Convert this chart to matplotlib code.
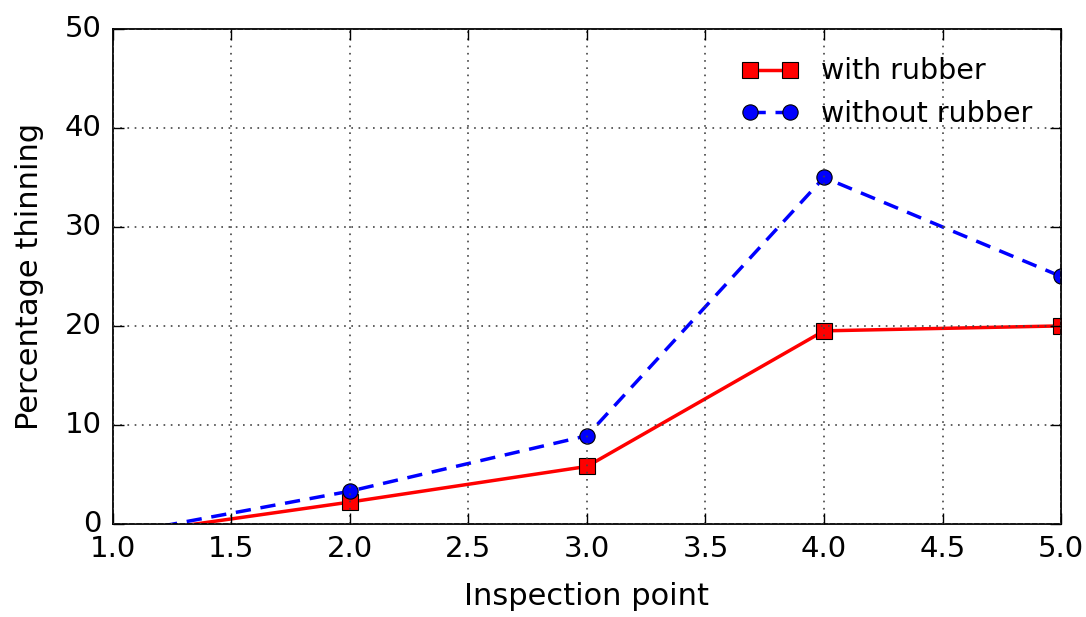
import matplotlib
matplotlib.use("Agg")
import matplotlib.pyplot as plt

plt.style.use("classic")

x = [1.0, 2.0, 3.0, 4.0, 5.0]
with_rubber = [-1.2, 2.2, 5.8, 19.5, 20.0]
without_rubber = [-1.15, 3.3, 8.9, 35.0, 25.0]

fig = plt.figure(figsize=(10.86, 6.17), dpi=100, facecolor="white")
ax = fig.add_axes([0.104, 0.151, 0.873, 0.802])

ax.plot(x, with_rubber, color="red", linestyle="-", marker="s", linewidth=2.5,
        markersize=11, markeredgecolor="black", markeredgewidth=0.8, label="with rubber")
ax.plot(x, without_rubber, color="blue", linestyle="--", marker="o", linewidth=2.5,
        markersize=11, markeredgecolor="black", markeredgewidth=0.8, dashes=(11, 7),
        label="without rubber")

ax.set_xlim(1.0, 5.0)
ax.set_ylim(0, 50)
ax.set_xticks([1.0, 1.5, 2.0, 2.5, 3.0, 3.5, 4.0, 4.5, 5.0])
ax.set_yticks([0, 10, 20, 30, 40, 50])
ax.grid(True, color="#444444", linestyle=(0, (1.2, 4)), linewidth=1.2)
ax.tick_params(labelsize=21, length=8, width=1, pad=8)
for s in ax.spines.values():
    s.set_linewidth(1.3)
ax.set_xlabel("Inspection point", fontsize=22, labelpad=14)
ax.set_ylabel("Percentage thinning", fontsize=22, labelpad=15)
ax.legend(loc="upper right", frameon=False, fontsize=20.5, numpoints=2, handlelength=2.0,
          borderaxespad=0.6)

fig.savefig("out.png", dpi=100, facecolor="white")
